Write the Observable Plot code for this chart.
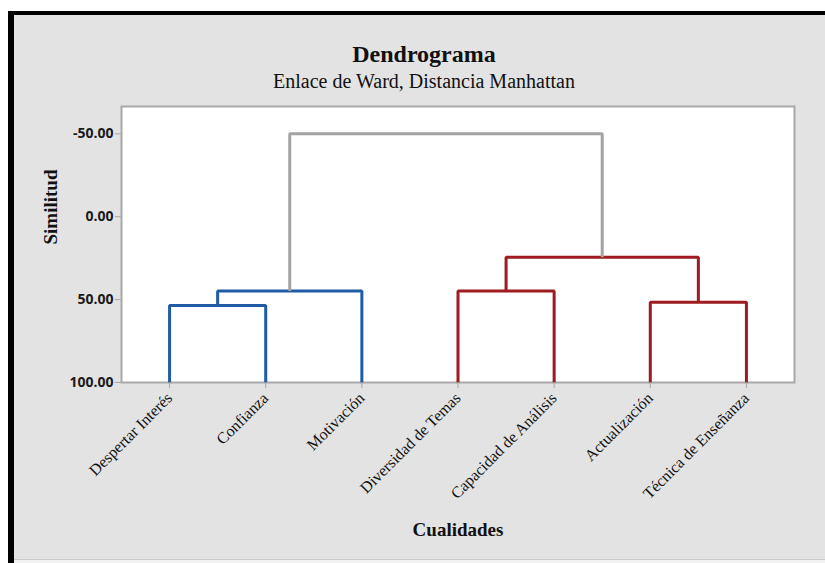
<!DOCTYPE html>
<html>
<head>
<meta charset="utf-8">
<script src="https://cdn.jsdelivr.net/npm/d3@7"></script>
<script src="https://cdn.jsdelivr.net/npm/@observablehq/plot@0.6"></script>
<style>
  html, body { margin: 0; padding: 0; background: #ffffff; }
  #panel {
    position: absolute; left: 8px; top: 11px; width: 817px; height: 552px;
    box-sizing: border-box;
    background: linear-gradient(to bottom, #e3e3e3 0, #e3e3e3 544px, #c9c9c9 544px, #c9c9c9 545px, #f2f2f2 545px);
    border-left: 6px solid #000; border-top: 4px solid #000;
  }
  .title, .subtitle {
    position: absolute; left: 10px; width: 800px; text-align: center;
    font-family: "Liberation Serif", "Times New Roman", serif; color: #111;
  }
  .title { top: 27px; font-size: 24px; line-height: 24px; font-weight: bold; }
  .subtitle { top: 55.5px; font-size: 20px; line-height: 20px; }
  #chart { position: absolute; left: 0; top: 0; }
  #chart g[aria-label="y-axis tick label"] text { font: 700 14px "Open Sans", sans-serif; }
  #chart g[aria-label="x-axis tick label"] text { font: 16px "Liberation Serif", serif; }
</style>
</head>
<body>
<div id="panel">
  <div class="title">Dendrograma</div>
  <div class="subtitle">Enlace de Ward, Distancia Manhattan</div>
  <div id="chart"></div>
</div>
<script>
// Leaves, in display order
const leaves = ["Despertar Interés", "Confianza", "Motivación", "Diversidad de Temas",
                "Capacidad de Análisis", "Actualización", "Técnica de Enseñanza"];
// Linkage: cluster ids 0..6 are leaves, merges create ids 7, 8, ...
const mergeA   = [0, 7, 3, 5, 9, 8];
const mergeB   = [1, 2, 4, 6, 10, 11];
const mergeSim = [53.6, 44.8, 44.8, 51.6, 24.4, -50.0];
const mergeGroup = ["g1", "g1", "g2", "g2", "g2", "root"];
const leafSim = 100;
const yTicks = [-50, 0, 50, 100];

// Dendrogram layout: node position = mean of children positions
const nodeX = leaves.map((_, i) => i);
const nodeY = leaves.map(() => leafSim);
const rows = [];
mergeA.forEach((a, k) => {
  const b = mergeB[k], h = mergeSim[k];
  const xa = nodeX[a], xb = nodeX[b];
  const pts = [[xa, nodeY[a]], [xa, h], [xb, h], [xb, nodeY[b]]];
  pts.forEach(([x, y]) => rows.push({id: k, x, y, group: mergeGroup[k]}));
  nodeX.push((xa + xb) / 2);
  nodeY.push(h);
});

const serif = "'Liberation Serif', 'Times New Roman', serif";
const chart = Plot.plot({
  width: 811, height: 545,
  marginLeft: 107, marginTop: 91, marginRight: 31, marginBottom: 178,
  style: {background: "transparent", overflow: "visible"},
  x: {domain: [-0.5, leaves.length - 0.5], axis: null},
  y: {domain: [100, -66.5], axis: null},
  color: {domain: ["g1", "g2", "root"], range: ["#1f5ba6", "#9e1b20", "#a3a3a3"]},
  marks: [
    Plot.frame({fill: "white", stroke: "#a8a8a8", strokeWidth: 2}),
    Plot.line(rows, {x: "x", y: "y", z: "id", stroke: "group", strokeWidth: 3,
                     strokeLinejoin: "miter", strokeLinecap: "butt"}),
    Plot.axisX({ticks: d3.range(leaves.length), tickFormat: i => leaves[i], label: null,
                tickRotate: -45, tickSize: 6, tickPadding: 7, stroke: "#a8a8a8", fill: "#111",
                fontSize: 16, fontFamily: serif}),
    Plot.axisY({ticks: yTicks, tickFormat: d => d.toFixed(2), label: null,
                tickSize: 6, tickPadding: 2, stroke: "#a8a8a8", fill: "#1a1a1a",
                fontSize: 14, fontFamily: "'Open Sans', sans-serif", fontWeight: 700}),
    Plot.text(["Cualidades"], {text: d => d, frameAnchor: "bottom", dy: 153, lineAnchor: "bottom",
                fontSize: 19, fontWeight: "bold", fontFamily: serif, fill: "#111"}),
    Plot.text(["Similitud"], {text: d => d, frameAnchor: "left", dx: -65, rotate: -90, lineAnchor: "bottom",
                fontSize: 19, fontWeight: "bold", fontFamily: serif, fill: "#111"})
  ]
});
document.getElementById("chart").appendChild(chart);
</script>
</body>
</html>
